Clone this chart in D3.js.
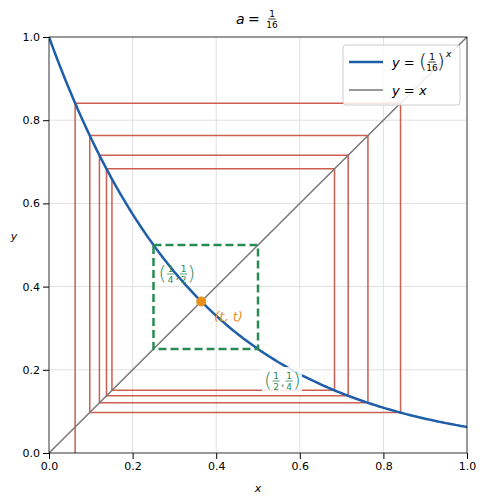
<!DOCTYPE html>
<html><head><meta charset="utf-8">
<script src="https://cdn.jsdelivr.net/npm/d3@7"></script>
<style>body{margin:0;background:#fff}text{font-family:"DejaVu Sans",sans-serif}</style>
</head><body><div id="chart"></div>
<script>
const base = 1 / 16;
// cobweb iterates
const iterates = [0.0625, 0.841, 0.0975, 0.763, 0.1206, 0.7157, 0.1375, 0.683, 0.1506, 0.66];
const fixedT = 0.3642;
const cycle = [0.25, 0.5];
const ticks = [0, 0.2, 0.4, 0.6, 0.8, 1.0];

const W = 486, H = 504;
const m = { t: 37, r: 19, b: 51, l: 49 };
const svg = d3.select("#chart").append("svg").attr("width", W).attr("height", H);
const x = d3.scaleLinear().domain([0, 1]).range([m.l, W - m.r]);
const y = d3.scaleLinear().domain([0, 1]).range([H - m.b, m.t]);
const serif = "'DejaVu Serif',serif";

svg.append("clipPath").attr("id", "c").append("rect")
	.attr("x", x(0)).attr("y", y(1)).attr("width", x(1) - x(0)).attr("height", y(0) - y(1));

// grid
svg.append("g").selectAll("line").data(ticks.slice(1, -1)).join("line")
	.attr("x1", (d) => x(d)).attr("x2", (d) => x(d)).attr("y1", y(0)).attr("y2", y(1))
	.attr("stroke", "#e0e0e0");
svg.append("g").selectAll("line").data(ticks.slice(1, -1)).join("line")
	.attr("y1", (d) => y(d)).attr("y2", (d) => y(d)).attr("x1", x(0)).attr("x2", x(1))
	.attr("stroke", "#e0e0e0");

const plot = svg.append("g").attr("clip-path", "url(#c)");

// cobweb
const pts = [[iterates[0], 0]];
for (let i = 0; i < iterates.length - 1; i++) {
	pts.push([iterates[i], iterates[i + 1]]);
	if (i < iterates.length - 2) pts.push([iterates[i + 1], iterates[i + 1]]);
}
plot.append("path").datum(pts)
	.attr("d", d3.line().x((d) => x(d[0])).y((d) => y(d[1])))
	.attr("fill", "none").attr("stroke", "#cc5f50").attr("stroke-width", 1.5);

// y = x
plot.append("line").attr("x1", x(0)).attr("y1", y(0)).attr("x2", x(1)).attr("y2", y(1))
	.attr("stroke", "#777").attr("stroke-width", 1.5);

// curve
const curve = d3.range(0, 1.0001, 0.005).map((v) => [v, Math.pow(base, v)]);
plot.append("path").datum(curve)
	.attr("d", d3.line().x((d) => x(d[0])).y((d) => y(d[1])))
	.attr("fill", "none").attr("stroke", "#1f5ea8").attr("stroke-width", 2.5);

// 2-cycle square
plot.append("rect").attr("x", x(cycle[0])).attr("y", y(cycle[1]))
	.attr("width", x(cycle[1]) - x(cycle[0])).attr("height", y(cycle[0]) - y(cycle[1]))
	.attr("fill", "none").attr("stroke", "#2a8a55").attr("stroke-width", 2.5)
	.attr("stroke-dasharray", "8,4");

plot.append("circle").attr("cx", x(fixedT)).attr("cy", y(fixedT)).attr("r", 5).attr("fill", "#e8901a");

// frame
svg.append("rect").attr("x", x(0)).attr("y", y(1)).attr("width", x(1) - x(0)).attr("height", y(0) - y(1))
	.attr("fill", "none").attr("stroke", "#000").attr("stroke-width", 0.8);

// axes
svg.append("g").attr("transform", `translate(0,${y(0)})`)
	.call(d3.axisBottom(x).tickValues(ticks).tickFormat(d3.format(".1f")).tickSizeOuter(0))
	.call((g) => g.select(".domain").remove())
	.selectAll("text").attr("font-size", 11).attr("font-family", "DejaVu Sans");
svg.append("g").attr("transform", `translate(${x(0)},0)`)
	.call(d3.axisLeft(y).tickValues(ticks).tickFormat(d3.format(".1f")).tickSizeOuter(0))
	.call((g) => g.select(".domain").remove())
	.selectAll("text").attr("font-size", 11).attr("font-family", "DejaVu Sans");

svg.append("text").attr("x", x(0.5)).attr("y", 492).attr("text-anchor", "middle")
	.attr("font-family", serif).attr("font-style", "italic").attr("font-size", 11).text("x");
svg.append("text").attr("x", 14).attr("y", 240).attr("text-anchor", "middle")
	.attr("font-family", serif).attr("font-style", "italic").attr("font-size", 11).text("y");

// small math helpers
function frac(g, cx, cy, num, den, fs, color) {
	g.append("text").attr("x", cx).attr("y", cy - 2).attr("text-anchor", "middle")
		.attr("font-family", serif).attr("font-size", fs).attr("fill", color).text(num);
	g.append("line").attr("x1", cx - fs * 0.4).attr("x2", cx + fs * 0.4).attr("y1", cy).attr("y2", cy)
		.attr("stroke", color).attr("stroke-width", 0.8);
	g.append("text").attr("x", cx).attr("y", cy + fs * 0.95).attr("text-anchor", "middle")
		.attr("font-family", serif).attr("font-size", fs).attr("fill", color).text(den);
}
function paren(g, px, cy, ch, color) {
	g.append("text").attr("x", px).attr("y", cy + 6).attr("text-anchor", "middle")
		.attr("font-family", serif).attr("font-size", 20).attr("font-weight", 300)
		.attr("fill", color).text(ch);
}
function pairLabel(cx, cy, a, b, color, bg) {
	const g = svg.append("g");
	if (bg) g.append("rect").attr("x", cx - 4).attr("y", cy - 14).attr("width", 40).attr("height", 28).attr("fill", "#fff").attr("opacity", 0.85);
	paren(g, cx + 2, cy, "(", color);
	frac(g, cx + 10, cy, a[0], a[1], 9, color);
	g.append("text").attr("x", cx + 15).attr("y", cy + 5).attr("font-family", serif).attr("font-size", 11).attr("fill", color).text(",");
	frac(g, cx + 23, cy, b[0], b[1], 9, color);
	paren(g, cx + 31, cy, ")", color);
}
pairLabel(x(0.25) + 7, y(0.5) + 29, ["1", "4"], ["1", "2"], "#2a8a55", false);
pairLabel(x(0.5) + 8, y(0.25) + 32, ["1", "2"], ["1", "4"], "#2a8a55", true);

svg.append("text").attr("x", x(fixedT) + 13).attr("y", y(fixedT) + 20)
	.attr("font-family", serif).attr("font-style", "italic").attr("font-size", 13)
	.attr("fill", "#e8901a").text("(t, t)");

// title
const tg = svg.append("g");
tg.append("text").attr("x", 236).attr("y", 24).attr("font-family", serif).attr("font-style", "italic").attr("font-size", 14).text("a");
tg.append("text").attr("x", 248).attr("y", 24).attr("font-family", serif).attr("font-size", 14).text("=");
frac(tg, 272, 19, "1", "16", 9, "#000");

// legend
const lg = svg.append("g");
lg.append("rect").attr("x", 343).attr("y", 45).attr("width", 117).attr("height", 60).attr("rx", 3)
	.attr("fill", "#fff").attr("fill-opacity", 0.85).attr("stroke", "#ccc");
lg.append("line").attr("x1", 349).attr("x2", 383).attr("y1", 62).attr("y2", 62).attr("stroke", "#1f5ea8").attr("stroke-width", 2.5);
lg.append("line").attr("x1", 349).attr("x2", 383).attr("y1", 90).attr("y2", 90).attr("stroke", "#777").attr("stroke-width", 1.5);
lg.append("text").attr("x", 392).attr("y", 67).attr("font-family", serif).attr("font-size", 13)
	.html('<tspan font-style="italic">y</tspan> =');
paren(lg, 423, 62, "(", "#000");
frac(lg, 432, 62, "1", "16", 9, "#000");
paren(lg, 441, 62, ")", "#000");
lg.append("text").attr("x", 446).attr("y", 57).attr("font-family", serif).attr("font-style", "italic").attr("font-size", 9).text("x");
lg.append("text").attr("x", 392).attr("y", 95).attr("font-family", serif).attr("font-size", 13)
	.html('<tspan font-style="italic">y</tspan> = <tspan font-style="italic">x</tspan>');
</script></body></html>
